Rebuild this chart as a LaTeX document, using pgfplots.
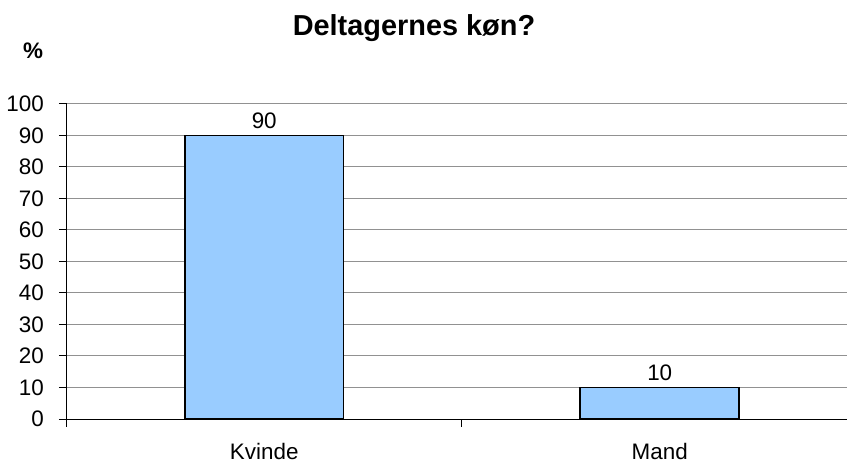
\documentclass[border=0pt]{standalone}
\usepackage{pgfplots}
\pgfplotsset{compat=1.18}
\usepackage{fontspec}
\setmainfont{Liberation Sans}
\definecolor{barblue}{RGB}{153,204,255}
\definecolor{gridgray}{RGB}{145,145,145}
\begin{document}
\begin{tikzpicture}
  \begin{axis}[
      scale only axis,
      width=780.5bp, height=315bp,
      at={(0,0)}, anchor=south west,
      ybar, bar width=0.402,
      xmin=-0.5, xmax=1.4735,
      ymin=0, ymax=100,
      axis lines*=left,
      axis line style={black, line width=1bp},
      ytick={0,10,...,100},
      ymajorgrids=true,
      grid style={gridgray, line width=1bp},
      y tick style={black, line width=1bp},
      major tick length=7.5bp,
      tick align=outside,
      xtick={0,1},
      xticklabels={Kvinde,Mand},
      x tick style={draw=none},
      extra x ticks={-0.5,0.5},
      extra x tick labels={},
      extra x tick style={x tick style={draw=black, line width=1bp}, major tick length=8bp},
      /pgf/number format/assume math mode=true,
      ticklabel style={font=\fontsize{22.5}{26}\selectfont},
      yticklabel style={anchor=east, inner sep=0pt, xshift=-15bp},
      xticklabel style={anchor=base, inner sep=0pt, yshift=-33bp},
      nodes near coords,
      nodes near coords style={font=\fontsize{22.5}{26}\selectfont, anchor=base, inner sep=0pt, yshift=7bp},
      clip=false,
    ]
    \addplot[fill=barblue, draw=black, line width=1.5bp]
      coordinates {
        (0,90)
        (1,10)
      };
    \node[anchor=base, font=\bfseries\fontsize{29}{33}\selectfont]
      at (axis description cs:0.4452,1.2159) {Deltagernes køn?};
    \node[anchor=base, font=\bfseries\fontsize{22.5}{26}\selectfont]
      at (axis description cs:-0.0429,1.146) {\%};
  \end{axis}
  \pgfresetboundingbox
  \useasboundingbox (-66.5bp,-45bp) rectangle (780.5bp,419bp);
\end{tikzpicture}
\end{document}
